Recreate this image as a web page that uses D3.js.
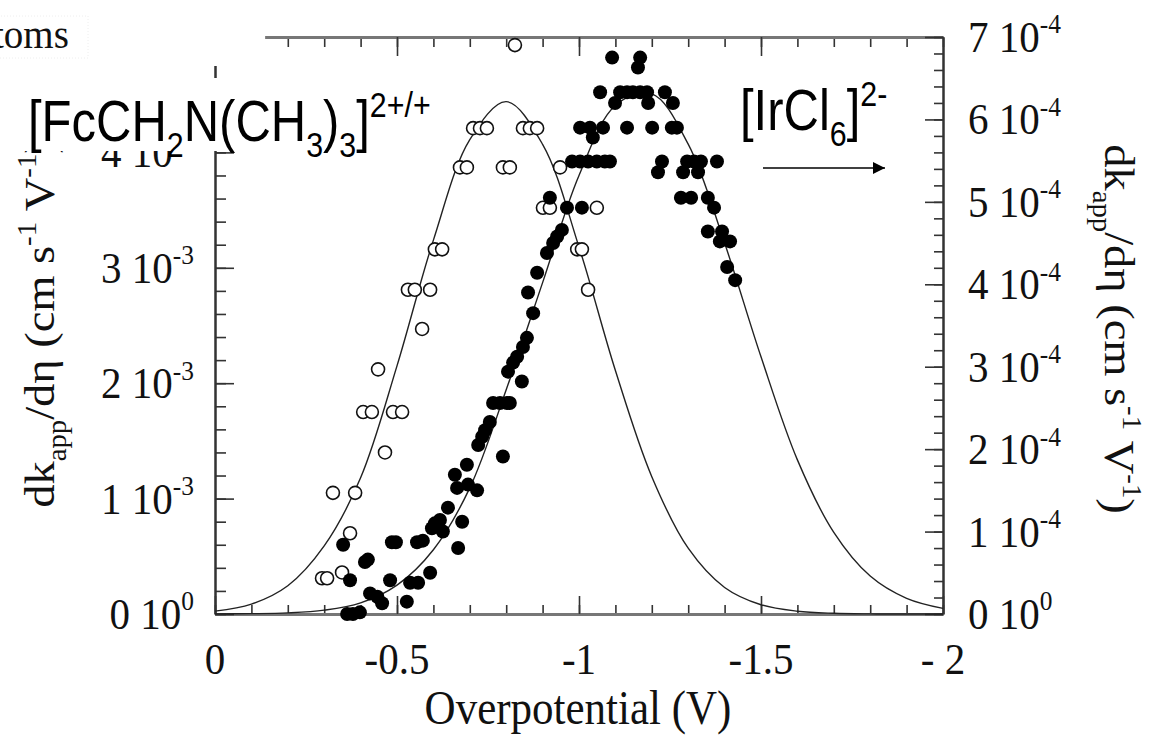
<!DOCTYPE html>
<html>
<head>
<meta charset="utf-8">
<script src="https://cdn.jsdelivr.net/npm/d3@7"></script>
<style>
  body { margin: 0; background: #fff; }
  svg { display: block; }
  .serif { font-family: "Liberation Serif", "DejaVu Serif", serif; fill: #111; }
  .sans { font-family: "Liberation Sans", Arial, sans-serif; fill: #000; }
</style>
</head>
<body>
<div id="main"></div>
<script>
// open circles: [FcCH2N(CH3)3]2+/+  (V, dk/dn in 1e-3, left axis)
var openPts = [
  [-0.709,4.21],[-0.728,4.21],[-0.747,4.21],[-0.846,4.21],[-0.865,4.21],[-0.885,4.21],
  [-0.824,4.93],
  [-0.673,3.87],[-0.692,3.87],[-0.791,3.87],[-0.810,3.87],[-0.948,3.87],
  [-0.901,3.52],[-0.920,3.52],[-1.049,3.52],
  [-0.604,3.16],[-0.624,3.16],[-0.995,3.16],[-1.008,3.16],
  [-0.530,2.81],[-0.549,2.81],[-0.591,2.81],[-1.025,2.81],
  [-0.569,2.47],
  [-0.448,2.12],
  [-0.407,1.75],[-0.431,1.75],[-0.489,1.75],[-0.514,1.75],
  [-0.467,1.40],
  [-0.324,1.05],[-0.385,1.05],
  [-0.371,0.70],
  [-0.294,0.31],[-0.308,0.31],[-0.349,0.36]
];

// filled circles: [IrCl6]2-  (V, dk/dn in 1e-4, right axis)
var filledPts = [
  [-1.091,6.75],[-1.168,6.75],[-1.162,6.63],
  [-1.058,6.33],[-1.113,6.33],[-1.132,6.33],[-1.148,6.33],[-1.168,6.33],[-1.187,6.33],[-1.236,6.33],
  [-1.099,6.20],[-1.190,6.20],[-1.258,6.20],
  [-1.003,5.90],[-1.030,5.90],[-1.066,5.90],[-1.132,5.90],[-1.201,5.90],[-1.255,5.90],[-1.269,5.90],
  [-1.038,5.78],
  [-0.981,5.49],[-1.003,5.49],[-1.025,5.49],[-1.049,5.49],[-1.071,5.49],[-1.085,5.49],
  [-1.228,5.49],[-1.297,5.49],[-1.316,5.49],[-1.335,5.49],[-1.379,5.49],
  [-1.217,5.36],[-1.286,5.36],[-1.327,5.36],
  [-0.920,5.05],[-1.280,5.05],[-1.308,5.05],[-1.354,5.05],
  [-1.371,4.93],[-0.967,4.93],[-1.008,4.93],
  [-0.953,4.66],[-0.940,4.58],[-0.929,4.50],[-0.912,4.38],
  [-1.354,4.64],[-1.393,4.64],[-1.387,4.52],[-1.415,4.52],
  [-1.407,4.21],[-1.429,4.05],
  [-0.885,4.14],[-0.860,3.90],[-0.874,3.65],[-0.857,3.35],[-0.846,3.24],
  [-0.830,3.12],[-0.819,3.05],[-0.805,2.94],[-0.843,2.82],
  [-0.764,2.56],[-0.783,2.56],[-0.802,2.56],[-0.810,2.56],
  [-0.755,2.33],[-0.742,2.23],[-0.734,2.15],[-0.723,2.05],[-0.791,1.91],
  [-0.692,1.81],[-0.659,1.69],[-0.665,1.53],[-0.695,1.57],[-0.720,1.50],
  [-0.640,1.29],[-0.618,1.14],[-0.604,1.10],[-0.626,1.00],[-0.596,1.04],
  [-0.679,1.12],[-0.668,0.80],
  [-0.486,0.87],[-0.497,0.87],[-0.555,0.87],[-0.571,0.89],
  [-0.352,0.84],[-0.412,0.63],[-0.420,0.66],
  [-0.371,0.41],[-0.481,0.41],[-0.591,0.50],[-0.536,0.38],[-0.558,0.38],
  [-0.426,0.25],[-0.446,0.21],[-0.459,0.13],[-0.527,0.15],
  [-0.363,0.0],[-0.379,0.0],[-0.398,0.02]
];

// fitted curves every 0.1 V
var fitV = [0,-0.1,-0.2,-0.3,-0.4,-0.5,-0.6,-0.7,-0.8,-0.9,-1.0,
            -1.1,-1.2,-1.3,-1.4,-1.5,-1.6,-1.7,-1.8,-1.9,-2.0];
var fitLeft = [0.025,0.086,0.245,0.59,1.18,2.15,3.24,4.11,4.44,4.07,3.18,
               2.11,1.19,0.57,0.23,0.08,0.024,0.006,0.001,0,0];
var fitRight = [0.001,0.004,0.014,0.047,0.135,0.35,0.78,1.53,2.72,4.02,5.32,
                6.17,6.31,5.70,4.50,3.12,1.87,0.99,0.46,0.19,0.068];

var xTickVals = [0,-0.5,-1,-1.5,-2];
var xTickText = ["0","-0.5","-1","-1.5","- 2"];
var leftTickVals = [0,1,2,3,4];
var leftTickExp = ["0","-3","-3","-3","-3"];
var rightTickVals = [0,1,2,3,4,5,6,7];
var rightTickExp = ["0","-4","-4","-4","-4","-4","-4","-4"];

var W = 1155, H = 748;
var L = 215, R = 943, T = 37, B = 614;

var svg = d3.select("#main").append("svg")
    .attr("width", W)
    .attr("height", H);

var x = d3.scaleLinear().domain([0, -2]).range([L, R]);
var yL = d3.scaleLinear().domain([0, 5]).range([B, T]);
var yR = d3.scaleLinear().domain([0, 7]).range([B, T]);

// helper: text with sub/superscript parts
function rich(t, parts, size) {
  var cur = 0;
  parts.forEach(function(p) {
    var target = p[1] === "sub" ? size * 0.28 : p[1] === "sup" ? -size * 0.42 : 0;
    t.append("tspan")
      .attr("dy", target - cur)
      .attr("font-size", p[1] === "n" ? size : size * 0.62)
      .text(p[0]);
    cur = target;
  });
}

//////////////////////////////////////////////////////////////////////////
// axes (ticks point inward)
function styleAxis(g, col, w) {
  g.select(".domain").attr("stroke", col).attr("stroke-width", w);
  g.selectAll(".tick line").attr("stroke", "#333").attr("stroke-width", 1.6);
  g.selectAll(".tick text").remove();
}

var minorX = d3.range(0, 21).map(function(i) { return -i / 10; });
svg.append("g").attr("transform", "translate(0," + B + ")")
  .call(d3.axisBottom(x).tickValues(minorX).tickSize(-9).tickSizeOuter(0))
  .call(styleAxis, "#777", 3);
svg.append("g").attr("transform", "translate(0," + B + ")")
  .call(d3.axisBottom(x).tickValues(xTickVals).tickSize(-18).tickSizeOuter(0))
  .call(styleAxis, "#777", 3);

var xTop = d3.scaleLinear().domain([-0.137, -2]).range([x(-0.137), R]);
svg.append("g").attr("transform", "translate(0," + T + ")")
  .call(d3.axisTop(xTop).tickValues(minorX.filter(function(v) { return v < -0.15; })).tickSize(-10).tickSizeOuter(0))
  .call(styleAxis, "#777", 3);
svg.append("g").attr("transform", "translate(0," + T + ")")
  .call(d3.axisTop(xTop).tickValues([-0.5, -1, -1.5]).tickSize(-19).tickSizeOuter(0))
  .call(styleAxis, "#777", 3);

var minorL = d3.range(0, 26).map(function(i) { return i / 5; });
svg.append("g").attr("transform", "translate(" + L + ",0)")
  .call(d3.axisLeft(yL).tickValues(minorL).tickSize(-11).tickSizeOuter(0))
  .call(styleAxis, "#333", 2);
svg.append("g").attr("transform", "translate(" + L + ",0)")
  .call(d3.axisLeft(yL).tickValues(leftTickVals).tickSize(-19).tickSizeOuter(0))
  .call(styleAxis, "#333", 2);

var minorR = d3.range(0, 36).map(function(i) { return i / 5; });
svg.append("g").attr("transform", "translate(" + R + ",0)")
  .call(d3.axisRight(yR).tickValues(minorR).tickSize(-9).tickSizeOuter(0))
  .call(styleAxis, "#333", 2);
svg.append("g").attr("transform", "translate(" + R + ",0)")
  .call(d3.axisRight(yR).tickValues(rightTickVals).tickSize(-18).tickSizeOuter(0))
  .call(styleAxis, "#333", 2);

//////////////////////////////////////////////////////////////////////////
// fitted curves
var lineL = d3.line()
    .x(function(d, i) { return x(fitV[i]); })
    .y(function(d) { return yL(d); })
    .curve(d3.curveCatmullRom.alpha(0.5));
var lineR = d3.line()
    .x(function(d, i) { return x(fitV[i]); })
    .y(function(d) { return yR(d); })
    .curve(d3.curveCatmullRom.alpha(0.5));

svg.append("path").attr("d", lineL(fitLeft))
  .attr("fill", "none").attr("stroke", "#222").attr("stroke-width", 1.4);
svg.append("path").attr("d", lineR(fitRight))
  .attr("fill", "none").attr("stroke", "#222").attr("stroke-width", 1.4);

// data points
svg.append("g").selectAll("circle")
  .data(openPts)
  .enter().append("circle")
  .attr("cx", function(d) { return x(d[0]); })
  .attr("cy", function(d) { return yL(d[1]); })
  .attr("r", 6.5)
  .attr("fill", "#fff")
  .attr("stroke", "#111")
  .attr("stroke-width", 1.6);

svg.append("g").selectAll("circle")
  .data(filledPts)
  .enter().append("circle")
  .attr("cx", function(d) { return x(d[0]); })
  .attr("cy", function(d) { return yR(d[1]); })
  .attr("r", 7)
  .attr("fill", "#000");

//////////////////////////////////////////////////////////////////////////
// tick labels
var fs = 41;
xTickVals.forEach(function(v, i) {
  svg.append("text").attr("class", "serif")
    .attr("transform", "translate(" + x(v) + ",674) scale(1,1.08)")
    .attr("text-anchor", "middle")
    .attr("font-size", fs)
    .text(xTickText[i]);
});

leftTickVals.forEach(function(v, i) {
  var t = svg.append("text").attr("class", "serif")
    .attr("transform", "translate(194," + (yL(v) + 15) + ") scale(1,1.08)")
    .attr("text-anchor", "end")
    .attr("font-size", fs);
  rich(t, [[v + " 10", "n"], [leftTickExp[i], "sup"]], fs);
});

rightTickVals.forEach(function(v, i) {
  var t = svg.append("text").attr("class", "serif")
    .attr("transform", "translate(968," + (yR(v) + 15) + ") scale(1,1.08)")
    .attr("font-size", fs);
  rich(t, [[v + " 10", "n"], [rightTickExp[i], "sup"]], fs);
});

// axis titles
svg.append("text").attr("class", "serif")
  .attr("transform", "translate(578,724) scale(1,1.12)")
  .attr("text-anchor", "middle")
  .attr("font-size", 43)
  .text("Overpotential (V)");

var yLab = [["dk", "n"], ["app", "sub"], ["/d\u03b7 (cm s", "n"], ["-1", "sup"],
            [" V", "n"], ["-1", "sup"], [")", "n"]];
var tl = svg.append("text").attr("class", "serif")
  .attr("transform", "translate(54,323) rotate(-90) scale(1.08,1)")
  .attr("text-anchor", "middle")
  .attr("font-size", 43);
rich(tl, yLab, 43);

var tr = svg.append("text").attr("class", "serif")
  .attr("transform", "translate(1105,329) rotate(90) scale(1.08,1)")
  .attr("text-anchor", "middle")
  .attr("font-size", 43);
rich(tr, yLab, 43);

//////////////////////////////////////////////////////////////////////////
// overlays from the source page
svg.append("rect").attr("x", 0).attr("y", 78).attr("width", 268).attr("height", 73).attr("fill", "#fff");
svg.append("rect").attr("x", 200).attr("y", 26).attr("width", 64).attr("height", 40).attr("fill", "#fff");

svg.append("rect").attr("x", -2).attr("y", 16).attr("width", 90).attr("height", 42)
  .attr("fill", "none").attr("stroke", "#eee").attr("stroke-dasharray", "1,2");
svg.append("text").attr("class", "serif")
  .attr("x", -7).attr("y", 48)
  .attr("font-size", 39)
  .attr("fill", "#333")
  .text("toms");

var fc = svg.append("text").attr("class", "sans")
  .attr("transform", "translate(28,141) scale(1,1.18)")
  .attr("font-size", 49);
rich(fc, [["[FcCH", "n"], ["2", "sub"], ["N(CH", "n"], ["3", "sub"], [")", "n"],
          ["3", "sub"], ["]", "n"], ["2+/+", "sup"]], 49);

var ir = svg.append("text").attr("class", "sans")
  .attr("transform", "translate(740,130) scale(1,1.18)")
  .attr("font-size", 49);
rich(ir, [["[IrCl", "n"], ["6", "sub"], ["]", "n"], ["2-", "sup"]], 49);

svg.append("defs").append("marker")
  .attr("id", "arr").attr("viewBox", "0 0 10 10")
  .attr("refX", 10).attr("refY", 5)
  .attr("markerWidth", 16).attr("markerHeight", 12)
  .attr("markerUnits", "userSpaceOnUse")
  .attr("orient", "auto")
  .append("path").attr("d", "M0,0 L10,5 L0,10 z").attr("fill", "#000");

svg.append("line")
  .attr("x1", 763).attr("y1", 168).attr("x2", 885).attr("y2", 168)
  .attr("stroke", "#000").attr("stroke-width", 1.5)
  .attr("marker-end", "url(#arr)");
</script>
</body>
</html>
